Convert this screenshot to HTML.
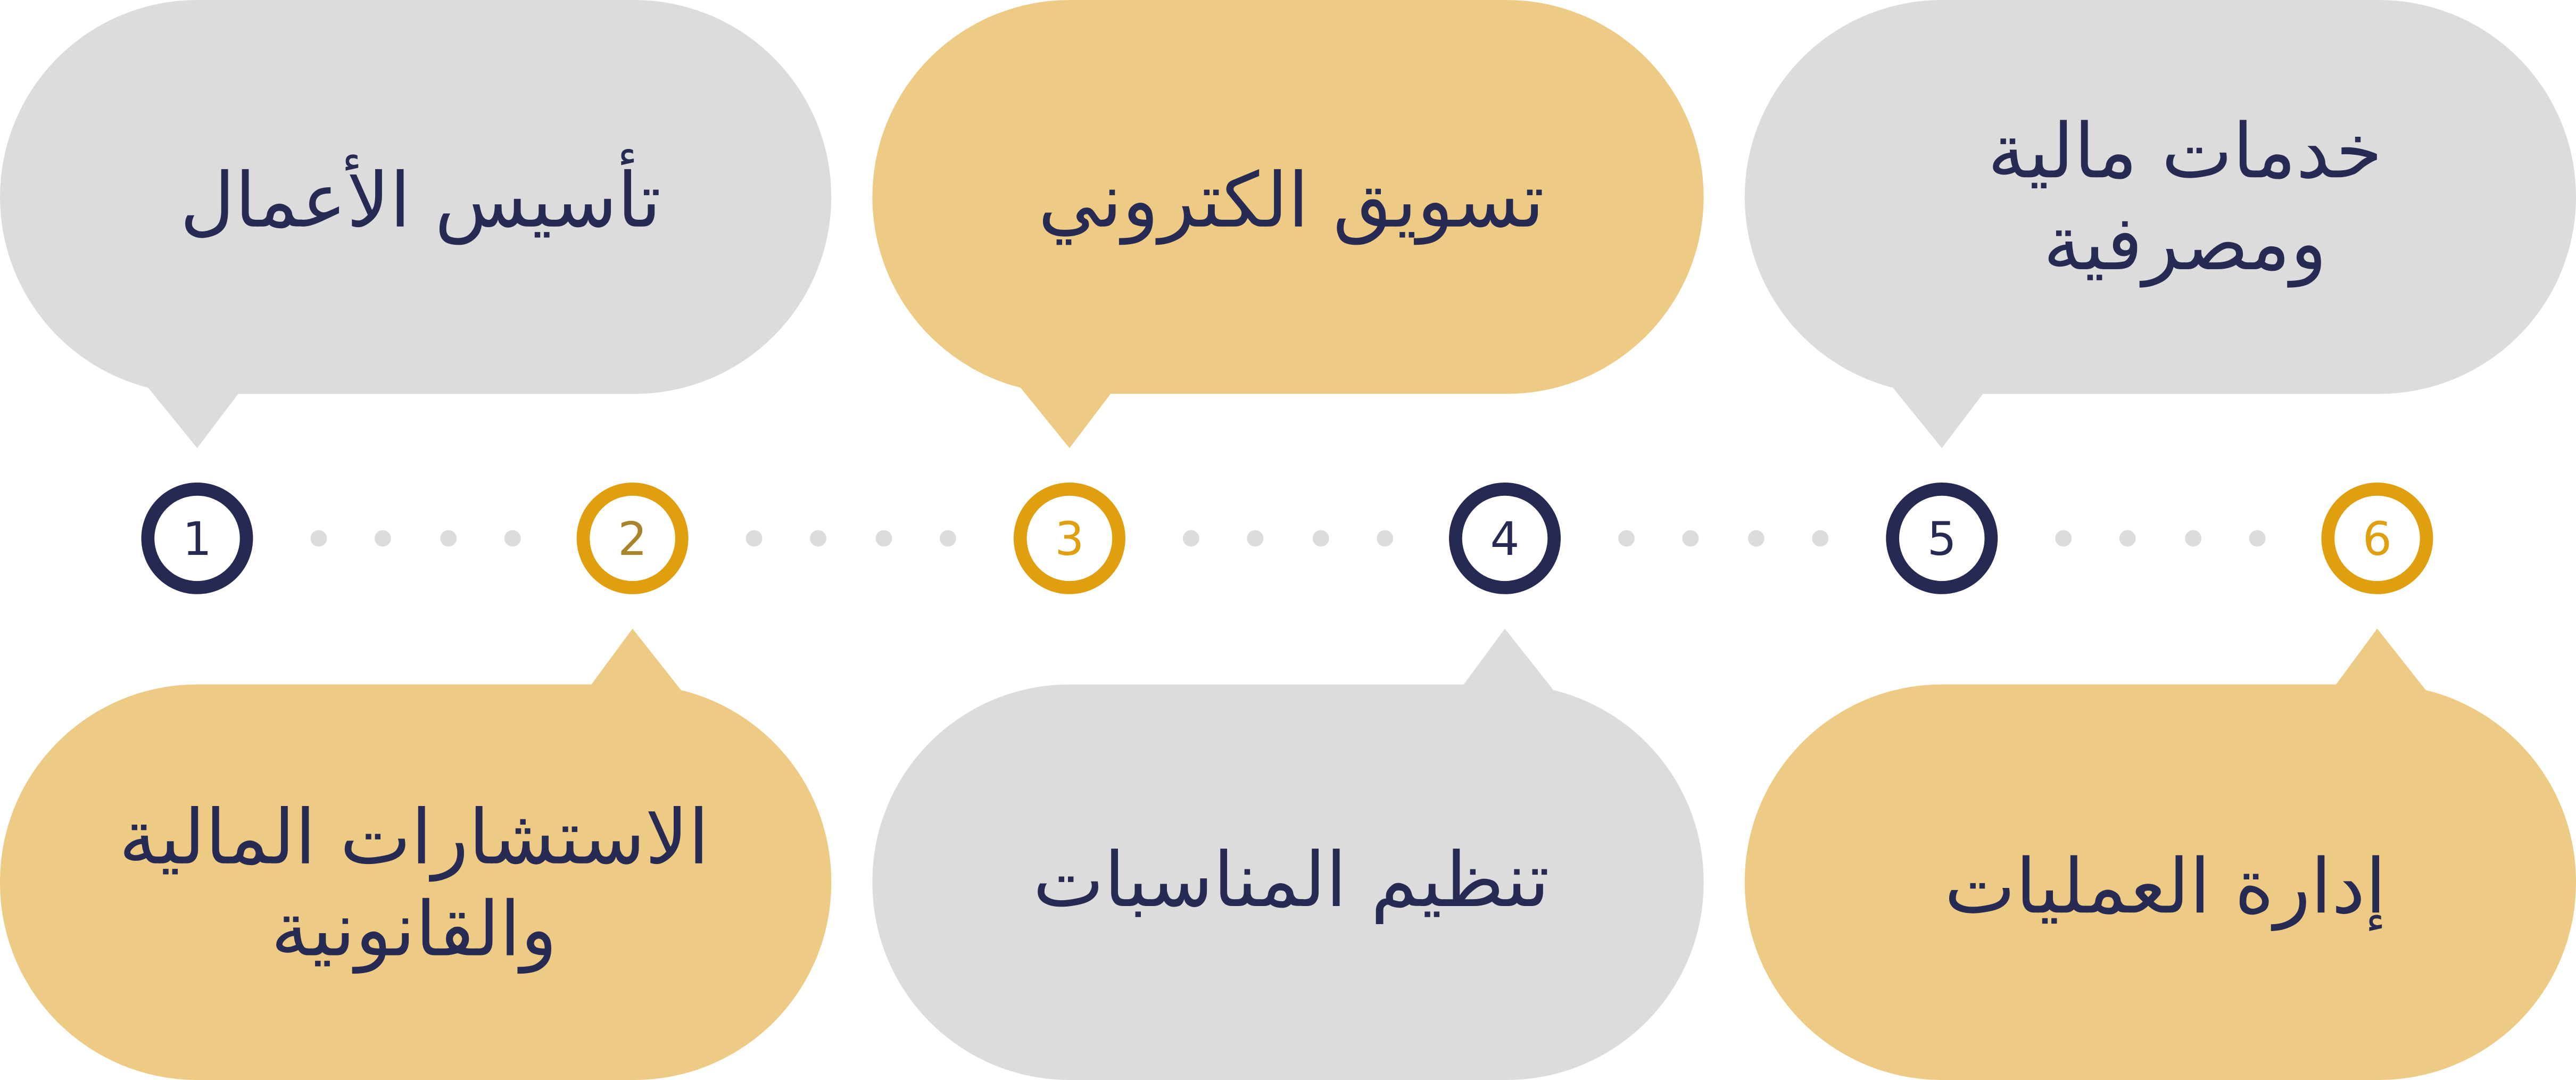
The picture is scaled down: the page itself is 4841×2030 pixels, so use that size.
<!DOCTYPE html>
<html><head><meta charset="utf-8"><style>
html,body{margin:0;padding:0;background:#fff;width:4841px;height:2030px;overflow:hidden}
svg{display:block}
text{font-family:"DejaVu Sans","Liberation Sans",sans-serif;fill:#272a52}
</style></head><body>
<svg width="4841" height="2030" viewBox="0 0 1568 658" preserveAspectRatio="none" xmlns="http://www.w3.org/2000/svg">
<rect x="0" y="0" width="506" height="240" rx="120" fill="#dcdcdc"/>
<polygon points="90,236 148,236 120,273" fill="#dcdcdc"/>
<rect x="531" y="0" width="506" height="240" rx="120" fill="#edcb84"/>
<polygon points="621,236 679,236 651,273" fill="#edcb84"/>
<rect x="1062" y="0" width="506" height="240" rx="120" fill="#dcdcdc"/>
<polygon points="1152,236 1210,236 1182,273" fill="#dcdcdc"/>
<rect x="0" y="417" width="506" height="241" rx="120" fill="#edcb84"/>
<polygon points="357,421 415,421 385,383" fill="#edcb84"/>
<rect x="531" y="417" width="506" height="241" rx="120" fill="#dcdcdc"/>
<polygon points="888,421 946,421 916,383" fill="#dcdcdc"/>
<rect x="1062" y="417" width="506" height="241" rx="120" fill="#edcb84"/>
<polygon points="1419,421 1477,421 1447,383" fill="#edcb84"/>
<g fill="#dcdcdc">
<circle cx="194" cy="328" r="5"/><circle cx="233" cy="328" r="5"/><circle cx="273" cy="328" r="5"/><circle cx="312" cy="328" r="5"/>
<circle cx="459" cy="328" r="5"/><circle cx="498" cy="328" r="5"/><circle cx="538" cy="328" r="5"/><circle cx="577" cy="328" r="5"/>
<circle cx="725" cy="328" r="5"/><circle cx="764" cy="328" r="5"/><circle cx="804" cy="328" r="5"/><circle cx="843" cy="328" r="5"/>
<circle cx="990" cy="328" r="5"/><circle cx="1029" cy="328" r="5"/><circle cx="1069" cy="328" r="5"/><circle cx="1108" cy="328" r="5"/>
<circle cx="1256" cy="328" r="5"/><circle cx="1295" cy="328" r="5"/><circle cx="1335" cy="328" r="5"/><circle cx="1374" cy="328" r="5"/>
</g>
<g fill="#fff" stroke-width="8">
<circle cx="120" cy="328" r="30" stroke="#262952"/>
<circle cx="385" cy="328" r="30" stroke="#e09f0e"/>
<circle cx="651" cy="328" r="30" stroke="#e09f0e"/>
<circle cx="916" cy="328" r="30" stroke="#262952"/>
<circle cx="1182" cy="328" r="30" stroke="#262952"/>
<circle cx="1447" cy="328" r="30" stroke="#e09f0e"/>
</g>
<g font-size="28" text-anchor="middle">
<text x="120" y="338">1</text>
<text x="385" y="338" style="fill:#a8842a">2</text>
<text x="651" y="338" style="fill:#e09f0e">3</text>
<text x="916" y="338">4</text>
<text x="1182" y="338">5</text>
<text x="1447" y="338" style="fill:#e09f0e">6</text>
</g>
<g font-size="46" text-anchor="middle" direction="rtl">
<text x="256" y="138">تأسيس الأعمال</text>
<text x="786" y="138">تسويق الكتروني</text>
<text x="1330" y="108">خدمات مالية</text>
<text x="1330" y="164">ومصرفية</text>
<text x="252" y="526">الاستشارات المالية</text>
<text x="252" y="582">والقانونية</text>
<text x="786" y="552">تنظيم المناسبات</text>
<text x="1318" y="556">إدارة العمليات</text>
</g>
</svg>
</body></html>
